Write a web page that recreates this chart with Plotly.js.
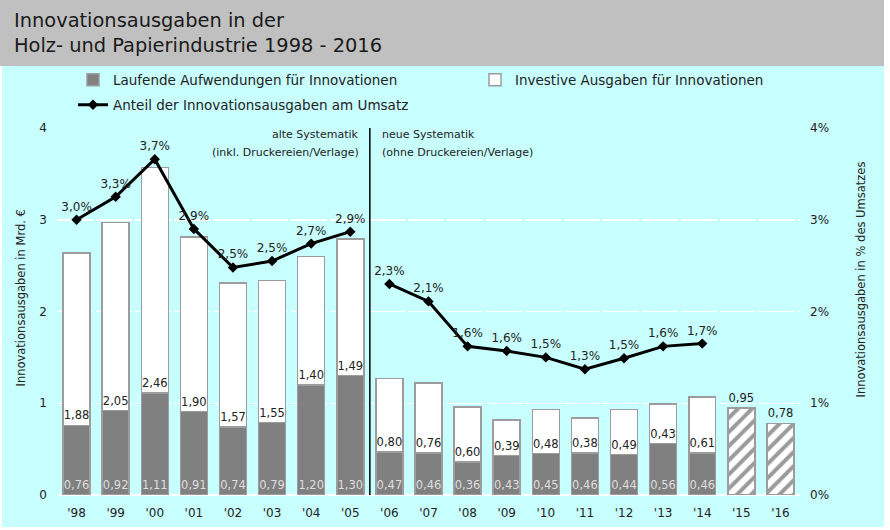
<!DOCTYPE html>
<html>
<head>
<meta charset="utf-8">
<script src="https://cdn.plot.ly/plotly-3.0.1.min.js"></script>
<style>
  html, body { margin: 0; padding: 0; background: #ffffff; }
  #chart { width: 890px; height: 530px; }
</style>
</head>
<body>
<div id="chart"></div>
<script>
// ---- Data ----
const years = ["'98","'99","'00","'01","'02","'03","'04","'05","'06","'07","'08","'09","'10","'11","'12","'13","'14","'15","'16"];
const laufende  = [0.76,0.92,1.11,0.91,0.74,0.79,1.20,1.30,0.47,0.46,0.36,0.43,0.45,0.46,0.44,0.56,0.46,null,null];
const investive = [1.88,2.05,2.46,1.90,1.57,1.55,1.40,1.49,0.80,0.76,0.60,0.39,0.48,0.38,0.49,0.43,0.61,null,null];
const geplant   = [null,null,null,null,null,null,null,null,null,null,null,null,null,null,null,null,null,0.95,0.78];
const anteilPct = [3.00,3.25,3.66,2.90,2.48,2.55,2.74,2.87,2.30,2.11,1.62,1.57,1.50,1.37,1.49,1.62,1.65,null,null];
const anteilLabels = [3.0,3.3,3.7,2.9,2.5,2.5,2.7,2.9,2.3,2.1,1.6,1.6,1.5,1.3,1.5,1.6,1.7,null,null];
const breakIndex = 8; // first year of the new systematics ('06)

const font = "DejaVu Sans, Verdana, sans-serif";
const fmt2 = v => (v == null ? "" : v.toFixed(2).replace(".", ","));
const fmtPct = v => (v == null ? "" : v.toFixed(1).replace(".", ",") + "%");
const outline = { color: "#9c9c9c", width: 1.5 };

const traces = [
  {
    type: "bar", name: "Laufende Aufwendungen für Innovationen",
    x: years, y: laufende, legend: "legend",
    marker: { color: "#808080", line: outline },
    text: laufende.map(fmt2), textposition: "inside", insidetextanchor: "start",
    textangle: 0, constraintext: "none",
    insidetextfont: { family: font, size: 11.5, color: "#dedede" },
    hoverinfo: "skip"
  },
  {
    type: "bar", name: "Investive Ausgaben für Innovationen",
    x: years, y: investive, legend: "legend2",
    marker: { color: "#ffffff", line: outline },
    text: investive.map(fmt2), textposition: "inside", insidetextanchor: "start",
    textangle: 0, constraintext: "none",
    insidetextfont: { family: font, size: 11.5, color: "#222222" },
    hoverinfo: "skip"
  },
  {
    type: "bar", name: "geplant", showlegend: false,
    x: years, y: geplant,
    marker: { color: "#ffffff", line: outline,
      pattern: { shape: "/", fgcolor: "#9a9a9a", bgcolor: "#ffffff", size: 10, solidity: 0.4 } },
    text: geplant.map(fmt2), textposition: "outside", textangle: 0, constraintext: "none",
    outsidetextfont: { family: font, size: 11.5, color: "#222222" },
    cliponaxis: false, hoverinfo: "skip"
  },
  {
    type: "scatter", mode: "lines+markers+text", name: "Anteil der Innovationsausgaben am Umsatz",
    legend: "legend3", yaxis: "y2",
    x: years.slice(0, breakIndex), y: anteilPct.slice(0, breakIndex),
    text: anteilLabels.slice(0, breakIndex).map(fmtPct), textposition: "top center",
    textfont: { family: font, size: 12, color: "#222222" },
    line: { color: "#000000", width: 3 },
    marker: { symbol: "diamond", size: 8, color: "#000000" },
    cliponaxis: false, hoverinfo: "skip"
  },
  {
    type: "scatter", mode: "lines+markers+text", name: "Anteil (neue Systematik)", showlegend: false,
    yaxis: "y2",
    x: years.slice(breakIndex), y: anteilPct.slice(breakIndex),
    text: anteilLabels.slice(breakIndex).map(fmtPct), textposition: "top center",
    textfont: { family: font, size: 12, color: "#222222" },
    line: { color: "#000000", width: 3 },
    marker: { symbol: "diamond", size: 8, color: "#000000" },
    cliponaxis: false, hoverinfo: "skip"
  }
];

const legendBase = {
  orientation: "v", xref: "container", yref: "container",
  xanchor: "left", yanchor: "top", bgcolor: "rgba(0,0,0,0)",
  font: { family: font, size: 13.5, color: "#222222" }
};

const layout = {
  width: 890, height: 530,
  margin: { l: 57, r: 90, t: 128, b: 35, autoexpand: false },
  paper_bgcolor: "#ffffff",
  plot_bgcolor: "rgba(0,0,0,0)",
  barmode: "stack",
  bargap: 0.31,
  separators: ",.",
  font: { family: font, size: 12, color: "#222222" },
  title: {
    text: "Innovationsausgaben in der<br>Holz- und Papierindustrie 1998 - 2016",
    xref: "container", yref: "container", x: 14 / 890, xanchor: "left",
    y: 1 - 27 / 530, yanchor: "top", automargin: false,
    font: { family: font, size: 19.4, color: "#1a1a1a" }
  },
  legend:  Object.assign({}, legendBase, { x: 73 / 890,  y: 1 - 64.5 / 530 }),
  legend2: Object.assign({}, legendBase, { x: 475 / 890, y: 1 - 64.5 / 530 }),
  legend3: Object.assign({}, legendBase, { x: 73 / 890,  y: 1 - 89.5 / 530 }),
  xaxis: {
    type: "category", categoryorder: "array", categoryarray: years,
    range: [-0.5, years.length - 0.5], autorange: false,
    showgrid: false, zeroline: false, showline: false, ticks: "",
    tickfont: { family: font, size: 12, color: "#222222" },
    ticklabelstandoff: 9, fixedrange: true, automargin: false
  },
  yaxis: {
    range: [0, 4], dtick: 1, showgrid: true, gridcolor: "#ffffff", gridwidth: 1.5,
    griddash: "36px,3px", zeroline: true, zerolinecolor: "#ffffff", zerolinewidth: 1.5,
    showline: false, ticks: "", ticklabelstandoff: 9,
    tickfont: { family: font, size: 12, color: "#222222" },
    automargin: false, fixedrange: true
  },
  yaxis2: {
    overlaying: "y", side: "right", range: [0, 4], dtick: 1, ticksuffix: "%",
    showgrid: false, zeroline: false, showline: false, ticks: "", ticklabelstandoff: 9,
    tickfont: { family: font, size: 12, color: "#222222" },
    automargin: false, fixedrange: true
  },
  shapes: [
    // cyan background of the chart area
    { type: "rect", xref: "paper", yref: "paper", layer: "below",
      x0: (2 - 57) / 743, x1: (884 - 57) / 743, y0: (495 - 527) / 367, y1: (495 - 66) / 367,
      fillcolor: "#c8ffff", line: { width: 0 } },
    // grey title band
    { type: "rect", xref: "paper", yref: "paper", layer: "below",
      x0: (0 - 57) / 743, x1: (884 - 57) / 743, y0: (495 - 66) / 367, y1: (495 + 10) / 367,
      fillcolor: "#c0c0c0", line: { width: 0 } },
    // divider between old and new systematics
    { type: "line", xref: "x", yref: "y", x0: breakIndex - 0.5, x1: breakIndex - 0.5, y0: 0, y1: 4,
      line: { color: "#000000", width: 1.5 } }
  ],
  annotations: [
    // axis titles
    { xref: "paper", yref: "paper", x: (20.5 - 57) / 743, y: (495 - 298) / 367,
      xanchor: "center", yanchor: "middle", textangle: -90, showarrow: false,
      text: "Innovationsausgaben in Mrd. €", font: { family: font, size: 11.5, color: "#222222" } },
    { xref: "paper", yref: "paper", x: (860.5 - 57) / 743, y: (495 - 280) / 367,
      xanchor: "center", yanchor: "middle", textangle: -90, showarrow: false,
      text: "Innovationsausgaben in % des Umsatzes", font: { family: font, size: 11.5, color: "#222222" } },
    // systematics notes
    { xref: "x", yref: "paper", x: breakIndex - 0.5, y: (495 - 135) / 367, xanchor: "right", yanchor: "middle",
      xshift: -9, text: "alte Systematik", showarrow: false, font: { family: font, size: 11, color: "#222222" } },
    { xref: "x", yref: "paper", x: breakIndex - 0.5, y: (495 - 152) / 367, xanchor: "right", yanchor: "middle",
      xshift: -9, text: "(inkl. Druckereien/Verlage)", showarrow: false, font: { family: font, size: 11, color: "#222222" } },
    { xref: "x", yref: "paper", x: breakIndex - 0.5, y: (495 - 135) / 367, xanchor: "left", yanchor: "middle",
      xshift: 10, text: "neue Systematik", showarrow: false, font: { family: font, size: 11, color: "#222222" } },
    { xref: "x", yref: "paper", x: breakIndex - 0.5, y: (495 - 152) / 367, xanchor: "left", yanchor: "middle",
      xshift: 10, text: "(ohne Druckereien/Verlage)", showarrow: false, font: { family: font, size: 11, color: "#222222" } }
  ],
  hovermode: false
};

Plotly.newPlot("chart", traces, layout, { staticPlot: true, displayModeBar: false });
</script>
</body>
</html>
